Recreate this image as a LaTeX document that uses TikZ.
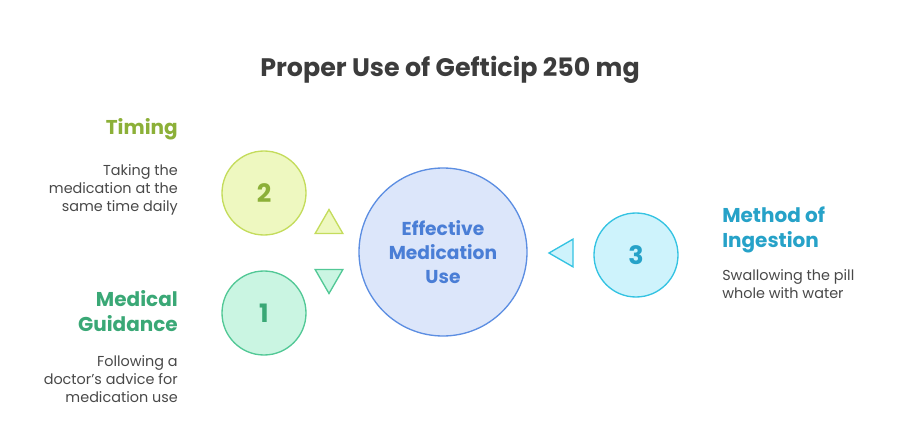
\documentclass[tikz,border=0pt]{standalone}
\usepackage{fontspec}
\setmainfont{Poppins}
\usetikzlibrary{shapes.geometric}

\definecolor{limefill}{RGB}{238,248,192}
\definecolor{limeline}{RGB}{196,220,92}
\definecolor{limetext}{RGB}{140,176,56}
\definecolor{mintfill}{RGB}{202,245,226}
\definecolor{mintline}{RGB}{82,200,150}
\definecolor{minttext}{RGB}{58,168,118}
\definecolor{bluefill}{RGB}{220,230,250}
\definecolor{blueline}{RGB}{92,142,226}
\definecolor{bluetext}{RGB}{74,126,214}
\definecolor{cyanfill}{RGB}{206,243,252}
\definecolor{cyanline}{RGB}{52,195,226}
\definecolor{cyantext}{RGB}{38,162,200}
\definecolor{desctext}{RGB}{72,72,72}

\begin{document}
\begin{tikzpicture}
		[
			x=0.75pt, y=-0.75pt,
			hub/.style={circle, draw=blueline, line width=1pt, fill=bluefill, minimum size=126pt, inner sep=0pt,
				text=bluetext, font=\fontsize{14}{18}\selectfont\bfseries, align=center},
			num/.style={circle, line width=1pt, minimum size=63pt, inner sep=0pt, font=\fontsize{19}{20}\selectfont\bfseries},
			tri/.style={regular polygon, regular polygon sides=3, line width=1pt, minimum size=24pt, inner sep=0pt},
			head/.style={font=\fontsize{15}{18.5}\selectfont\bfseries, inner sep=0pt},
			desc/.style={font=\fontsize{10.8}{13.5}\selectfont, text=desctext, inner sep=0pt},
		]
		\useasboundingbox (0,0) rectangle (900,432);

		% Title
		\node[font=\fontsize{19}{22}\selectfont\bfseries, text={rgb,255:red,60;green,60;blue,60}] (title) at (450,70) {Proper Use of Gefticip 250 mg};

		% Nodes
		\node[hub] (hub) at (443,252) {Effective\\Medication\\Use};
		\foreach \name/\col/\x/\y in
		{
			2/lime/264/193,
			1/mint/264/313,
			3/cyan/636/255
		}
			\node[num, draw=\col line, fill=\col fill, text=\col text] (n\name) at (\x,\y) {\name};

		% Pointers
		\foreach \name/\col/\rot/\x/\y in
		{
			up/lime/0/329/225.5,
			down/mint/180/329/277.5,
			left/cyan/90/565/253
		}
			\node[tri, shape border rotate=\rot, draw=\col line, fill=\col fill] (t\name) at (\x,\y) {};

		% Labels
		\node[head, text=limetext, anchor=base east] (timing) at (178,134) {Timing};
		\node[desc, align=right, anchor=north east] (timingdesc) at (178,164) {Taking the\\medication at the\\same time daily};

		\node[head, text=minttext, align=right, anchor=base east] (guide) at (178,331) {Medical\\Guidance};
		\node[desc, align=right, anchor=north east] (guidedesc) at (178,355) {Following a\\doctor{\char"0027}s advice for\\medication use};

		\node[head, text=cyantext, align=left, anchor=base west] (ingest) at (722,247) {Method of\\Ingestion};
		\node[desc, align=left, anchor=north west] (ingestdesc) at (722,269) {Swallowing the pill\\whole with water};

		\end{tikzpicture}
\end{document}
